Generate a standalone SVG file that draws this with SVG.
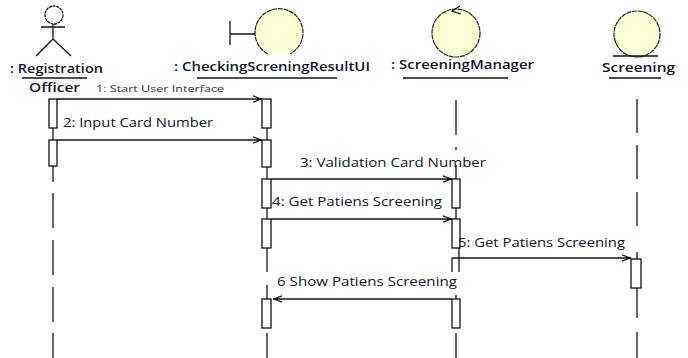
<svg xmlns="http://www.w3.org/2000/svg" width="688" height="358" viewBox="0 0 688 358">
<style>
.l{fill:none;stroke:#151515;stroke-width:1.3}
.c{fill:#ffffd8;stroke:#222;stroke-width:1.2;stroke-dasharray:5 .7}
.a{fill:#fff;stroke:#111;stroke-width:1.3}
.t{font-family:"Open Sans","Liberation Sans",Arial,sans-serif;font-size:12.5px;fill:#14142a;font-weight:600}
.m{font-family:"Open Sans","Liberation Sans",Arial,sans-serif;font-size:12.5px;fill:#14142a;font-weight:500}
.s{font-family:"Open Sans","Liberation Sans",Arial,sans-serif;font-size:9.5px;fill:#333}
</style>
<defs><marker id="h" markerWidth="10" markerHeight="8" refX="9" refY="4" orient="auto" markerUnits="userSpaceOnUse"><path d="M0 .8L8 4L0 7.2" fill="none" stroke="#210" stroke-width="1.2"/><path d="M4 3V5L9 4Z" fill="#300"/></marker></defs>
<rect width="688" height="358" fill="#fff"/>
<g id="lifelines">
<path class="l" d="M53 128V140M53 166V182M53 193V228M53 240V275M53 287V322M53 333V358M267 128V140M267 167V179M267 208V219M267 248V272M267 285V299M267 333V358M456 100V135M456 147V150M456 165V179M456 208V219M452 258V272M459 248V272M456 295V299M456 333V358M637 99V133M637 145V179M637 192V226M637 252V259M637 288V318M637 332V358"/>
</g>
<g id="actor-registration">
<circle class="l" cx="54" cy="15" r="9" stroke-dasharray="3 .7"/>
<path class="l" d="M41 27H65M53 24V39M53 39L36 56M53 39L71 56"/>
<text class="t" x="10" y="73" textLength="93" lengthAdjust="spacingAndGlyphs">: Registration</text>
<path class="l" d="M22 78H87"/>
<text class="t" x="29" y="92" textLength="51" lengthAdjust="spacingAndGlyphs">Officer</text>
</g>
<g id="checking-ui">
<path d="M268 54A24 24 0 1 1 290 54Z" fill="#ffffd8"/>
<path class="c" d="M268 54A24 24 0 1 1 290 54"/>
<path class="l" d="M230 21V45M230 34H255"/>
<text class="t" x="174" y="71" textLength="196" lengthAdjust="spacingAndGlyphs">: CheckingScreningResultUI</text>
<path class="l" d="M197 78H337"/>
</g>
<g id="screening-manager">
<circle class="c" cx="456" cy="33" r="24"/>
<path class="l" d="M460 6L452 11L461 14"/>
<text class="t" x="391" y="69" textLength="143" lengthAdjust="spacingAndGlyphs">: ScreeningManager</text>
<path class="l" d="M403 78H508"/>
</g>
<g id="screening">
<circle class="c" cx="637" cy="34" r="23"/>
<path class="l" d="M613 56H658"/>
<text class="t" x="602" y="72" textLength="73" lengthAdjust="spacingAndGlyphs">Screening</text>
<path class="l" d="M609 78H661"/>
</g>
<g id="activations">
<rect class="a" x="49" y="99" width="8" height="29"/>
<rect class="a" x="49" y="140" width="8" height="26"/>
<rect class="a" x="262" y="99" width="9" height="29"/>
<rect class="a" x="262" y="140" width="9" height="27"/>
<rect class="a" x="262" y="179" width="9" height="29"/>
<rect class="a" x="262" y="219" width="9" height="29"/>
<rect class="a" x="262" y="299" width="9" height="29"/>
<rect class="a" x="452" y="179" width="8" height="29"/>
<rect class="a" x="452" y="219" width="8" height="29"/>
<rect class="a" x="452" y="299" width="8" height="29"/>
<rect class="a" x="631" y="259" width="10" height="29"/>
</g>
<g id="connectors">
<path class="l" marker-end="url(#h)" d="M57 99H262"/>
<path class="l" marker-end="url(#h)" d="M57 140H262"/>
<path class="l" marker-end="url(#h)" d="M271 179H452"/>
<path class="l" marker-end="url(#h)" d="M271 219H452"/>
<path class="l" marker-end="url(#h)" d="M452 258H631"/>
<path class="l" marker-end="url(#h)" d="M452 299H273"/>
</g>
<g id="labels">
<text class="s" x="96" y="92" textLength="128" lengthAdjust="spacingAndGlyphs">1: Start User Interface</text>
<text class="m" x="63" y="127" textLength="150" lengthAdjust="spacingAndGlyphs">2: Input Card Number</text>
<text class="m" x="300" y="167" textLength="186" lengthAdjust="spacingAndGlyphs">3: Validation Card Number</text>
<text class="m" x="272" y="206" textLength="170" lengthAdjust="spacingAndGlyphs">4: Get Patiens  Screening</text>
<text class="m" x="458" y="247" textLength="167" lengthAdjust="spacingAndGlyphs">5: Get Patiens  Screening</text>
<text class="m" x="277" y="286" textLength="180" lengthAdjust="spacingAndGlyphs">6 Show Patiens  Screening</text>
</g>
</svg>
